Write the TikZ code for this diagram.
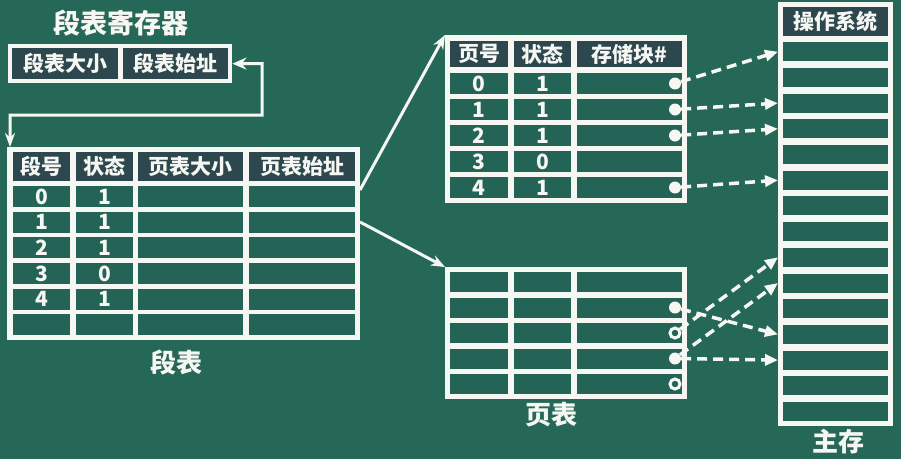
\documentclass[tikz,border=0pt]{standalone}
\usepackage{fontspec}
\setmainfont{Noto Sans CJK SC}
\usetikzlibrary{arrows.meta,calc}
\definecolor{board}{RGB}{38,104,88}
\definecolor{hdr}{RGB}{44,72,78}
\definecolor{cellc}{RGB}{36,100,86}
\definecolor{chalk}{RGB}{246,246,242}
\newcommand\cellbox[7]{\node[#6, minimum width=#4pt, minimum height=#5pt] (#1) at (#2,#3) {#7};}
\begin{document}
\begin{tikzpicture}[x=1pt,y=-1pt,
  frame/.style={fill=chalk, draw=none, inner sep=0pt, anchor=north west},
  hcell/.style={fill=hdr, inner sep=0pt, anchor=north west, text=chalk, font=\bfseries\fontsize{21}{21}\selectfont},
  bcell/.style={fill=cellc, inner sep=0pt, anchor=north west, text=chalk, font=\bfseries\fontsize{21}{21}\selectfont},
  lab/.style={text=chalk, inner sep=0pt, font=\bfseries\fontsize{26}{26}\selectfont},
  dotf/.style={circle, fill=chalk, inner sep=0pt, minimum size=12pt},
  dotr/.style={circle, draw=chalk, line width=3pt, fill=cellc, inner sep=0pt, minimum size=10pt},
  solidarrow/.style={draw=chalk, line width=3pt, -{Stealth[length=14pt,width=11pt]}},
  regarrow/.style={draw=chalk, line width=3pt, {Stealth[length=14pt,width=12pt]}-{Stealth[length=14pt,width=10pt]}},
  chalkdash/.style={draw=chalk, line width=3.5pt, dash pattern=on 10pt off 6pt, -{Triangle[length=13pt,width=11pt]}}
]
\fill[board] (0,0) rectangle (901,459);
\useasboundingbox (0,0) rectangle (901,459);

% ---------- segment table register ----------
\node[lab, font=\bfseries\fontsize{27}{27}\selectfont] (regt) at (121,23) {段表寄存器};
\node[frame, minimum width=224pt, minimum height=39pt] (reg) at (8,44) {};
\cellbox{reg1}{12}{48}{106}{31}{hcell}{段表大小}
\cellbox{reg2}{123}{48}{105}{31}{hcell}{段表始址}

% ---------- segment table ----------
\node[frame, minimum width=353pt, minimum height=193pt] (seg) at (7,147) {};
\cellbox{sh1}{13}{152}{57}{29}{hcell}{段号}
\cellbox{sh2}{76}{152}{57}{29}{hcell}{状态}
\cellbox{sh3}{138}{152}{105}{29}{hcell}{页表大小}
\cellbox{sh4}{249}{152}{106}{29}{hcell}{页表始址}
\foreach \r/\n/\s in {0/0/1,1/1/1,2/2/1,3/3/0,4/4/1,5/{}/{}}{
  \pgfmathsetmacro\yy{186+\r*25.6}
  \cellbox{s\r-1}{13}{\yy}{57}{21}{bcell}{\n}
  \cellbox{s\r-2}{76}{\yy}{57}{21}{bcell}{\s}
  \cellbox{s\r-3}{138}{\yy}{105}{21}{bcell}{}
  \cellbox{s\r-4}{249}{\yy}{106}{21}{bcell}{}
}
\node[lab] (segl) at (176,362) {段表};

% ---------- page table 1 ----------
\node[frame, minimum width=242pt, minimum height=168pt] (pa) at (445,35) {};
\cellbox{ph1}{450}{41}{58}{26}{hcell}{页号}
\cellbox{ph2}{514}{41}{57}{26}{hcell}{状态}
\cellbox{ph3}{577}{41}{105}{26}{hcell}{存储块\#}
\foreach \r/\n/\s in {0/0/1,1/1/1,2/2/1,3/3/0,4/4/1}{
  \pgfmathsetmacro\yy{73+\r*26}
  \cellbox{a\r-1}{450}{\yy}{58}{21}{bcell}{\n}
  \cellbox{a\r-2}{514}{\yy}{57}{21}{bcell}{\s}
  \cellbox{a\r-3}{577}{\yy}{105}{21}{bcell}{}
}
\node[dotf] (ad0) at (675,83.5) {};
\node[dotf] (ad1) at (675,109.5) {};
\node[dotf] (ad2) at (675,135.5) {};
\node[dotf] (ad4) at (675,187.5) {};

% ---------- page table 2 ----------
\node[frame, minimum width=242pt, minimum height=132pt] (pb) at (445,267) {};
\foreach \r in {0,...,4}{
  \pgfmathsetmacro\yy{272+\r*25.5}
  \cellbox{b\r-1}{450}{\yy}{58}{20}{bcell}{}
  \cellbox{b\r-2}{514}{\yy}{57}{20}{bcell}{}
  \cellbox{b\r-3}{577}{\yy}{105}{20}{bcell}{}
}
\node[dotf] (bd1) at (675,307.5) {};
\node[dotr] (bd2) at (675,333) {};
\node[dotf] (bd3) at (675,358.5) {};
\node[dotr] (bd4) at (675,384) {};
\node[lab] (pbl) at (551,415) {页表};

% ---------- main memory ----------
\node[frame, minimum width=115pt, minimum height=424pt] (mem) at (778,2) {};
\cellbox{mh}{783}{7}{105}{29}{hcell}{操作系统}
\foreach \i in {1,...,15}{
  \pgfmathsetmacro\yy{42+(\i-1)*25.7}
  \cellbox{m\i}{783}{\yy}{105}{19}{bcell}{}
}
\node[lab] (meml) at (838,442) {主存};

% ---------- connectors ----------
\coordinate (rc1) at (262,63.5);
\coordinate (rc2) at (262,115);
\coordinate (rc3) at (10,115);
\coordinate (segin) at (10,147);
\draw[regarrow] (reg.east) -- (rc1) -- (rc2) -- (rc3) -- (segin);

\coordinate (so1) at (360,190);
\coordinate (so2) at (360,222);
\draw[solidarrow] (so1) -- (pa.north west);
\draw[solidarrow] (so2) -- (pb.north west);

\draw[chalkdash] (ad0) -- (m1 -| mem.west);
\draw[chalkdash] (ad1) -- (m3 -| mem.west);
\draw[chalkdash] (ad2) -- (m4 -| mem.west);
\draw[chalkdash] (ad4) -- (m6 -| mem.west);

\draw[chalkdash] (bd1) -- (m12 -| mem.west);
\draw[chalkdash] (bd2) -- (m9 -| mem.west);
\draw[chalkdash] (bd3) -- (m10 -| mem.west);
\draw[chalkdash] (bd3) -- (m13 -| mem.west);
\end{tikzpicture}
\end{document}
